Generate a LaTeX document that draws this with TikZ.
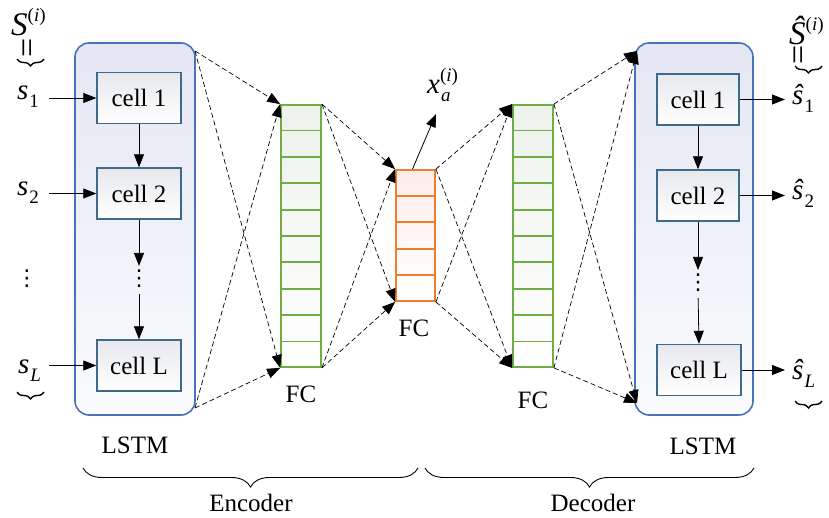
\documentclass[tikz,border=0pt]{standalone}
\usepackage{fontspec}
\setmainfont{Liberation Serif}
\newfontfamily\dejavu{DejaVu Sans}
\usetikzlibrary{arrows.meta,decorations.pathreplacing,calc}
\definecolor{lstmblue}{HTML}{4A72BA}
\definecolor{lstmtop}{HTML}{E4E7F3}
\definecolor{lstmbot}{HTML}{FAFBFD}
\definecolor{cellblue}{HTML}{3F6A8C}
\definecolor{celltop}{HTML}{E6E8EC}
\definecolor{fcgreen}{HTML}{70AD47}
\definecolor{greentop}{HTML}{EDF2EB}
\definecolor{fcorange}{HTML}{ED7D31}
\definecolor{orangetop}{HTML}{FDEDEA}
\newcommand\lbl{\fontsize{25}{28}\selectfont}
\newcommand\symfont{\fontsize{29}{32}\selectfont}
\newcommand\bigsymfont{\fontsize{33}{36}\selectfont}
\newcommand\subfont{\fontsize{19}{20}\selectfont}
\newcommand\supfont{\fontsize{19}{20}\selectfont}
\newcommand\myvdots{{\dejavu\fontsize{22}{24}\selectfont ⋮}}
\newcommand\vsub[2]{\textit{#1}\raisebox{-8pt}{\subfont\kern1pt #2}}
\tikzset{
  lstmbox/.style={draw=lstmblue, line width=1.6pt, rounded corners=14pt,
    top color=lstmtop, bottom color=lstmbot, inner sep=0pt},
  cellbox/.style={draw=cellblue, line width=1.4pt, top color=celltop, bottom color=white,
    minimum height=51pt, inner sep=0pt, font=\lbl},
  fcgbox/.style={draw=fcgreen, line width=1.8pt, top color=greentop, bottom color=white,
    minimum width=40pt, minimum height=262pt, inner sep=0pt},
  fcobox/.style={draw=fcorange, line width=1.8pt, top color=orangetop, bottom color=white,
    minimum width=39pt, minimum height=131pt, inner sep=0pt},
  sarrow/.style={line width=0.8pt, -{Triangle[length=13pt,width=10pt]}},
  darrow/.style={line width=0.7pt, dash pattern=on 5pt off 3pt, -{Triangle[length=13pt,width=10pt]}},
  txt/.style={font=\lbl, inner sep=0pt},
  sym/.style={font=\symfont},
  dotsnode/.style={inner sep=0pt},
  eqsign/.style={font=\fontsize{34}{34}\selectfont, rotate=90, inner sep=0pt},
  bigbrace/.style={decorate, decoration={brace, mirror, amplitude=19pt}, line width=0.9pt},
  smallbrace/.style={decorate, decoration={brace, mirror, amplitude=7pt}, line width=1.4pt},
}
\begin{document}
\begin{tikzpicture}[x=1pt,y=-1pt]
\useasboundingbox (0,0) rectangle (829,518);

% ---------- left LSTM ----------
\node[lstmbox, minimum width=120pt, minimum height=372pt] (lstmL) at (135,229) {};
\node[cellbox, minimum width=84pt] (lc1) at (139,98) {cell 1};
\node[cellbox, minimum width=84pt] (lc2) at (139,193.5) {cell 2};
\node[cellbox, minimum width=84pt] (lcL) at (139,365.5) {cell L};
\node[dotsnode] (lvd) at (139,279) {\myvdots};
\draw[sarrow] (lc1.south) -- (lc2.north);
\draw[sarrow, shorten >=4pt] (lc2.south) -- (lvd.north);
\draw[sarrow, shorten <=6pt] (lvd.south) -- (lcL.north);
\node[txt] (lstmLlbl) at (135,445) {LSTM};

% inputs
\node[font=\bigsymfont, anchor=base west, inner sep=0pt] (Si) at (11,36) {\textit{S}\raisebox{14pt}{\supfont(\textit{i})}};
\node[eqsign] (eqL) at (31,48) {=};
\coordinate (brLa) at (17,59);
\coordinate (brLb) at (44,59);
\draw[smallbrace] (brLa) -- (brLb);
\node[sym, anchor=base west, inner sep=0pt] (s1) at (17,100) {\vsub{s}{1}};
\node[sym, anchor=base west, inner sep=0pt] (s2) at (17,196) {\vsub{s}{2}};
\node[dotsnode] (svd) at (27,279) {\myvdots};
\node[sym, anchor=base west, inner sep=0pt] (sL) at (18,373) {\vsub{s}{\textit{L}}};
\coordinate (brLLa) at (17,392);
\coordinate (brLLb) at (44,392);
\draw[smallbrace] (brLLa) -- (brLLb);
\draw[sarrow] ([xshift=10pt]s1.east |- lc1.west) -- (lc1.west);
\draw[sarrow] ([xshift=10pt]s1.east |- lc2.west) -- (lc2.west);
\draw[sarrow] ([xshift=10pt]s1.east |- lcL.west) -- (lcL.west);

% ---------- FC layers ----------
\node[fcgbox] (fc1) at (301,236) {};
\node[fcobox] (fco) at (415.5,235.5) {};
\node[fcgbox] (fc2) at (533,236) {};
\foreach \i in {1,...,9}{
  \draw[fcgreen, line width=1.8pt] ($(fc1.north west)!\i/10!(fc1.south west)$) -- ($(fc1.north east)!\i/10!(fc1.south east)$);
  \draw[fcgreen, line width=1.8pt] ($(fc2.north west)!\i/10!(fc2.south west)$) -- ($(fc2.north east)!\i/10!(fc2.south east)$);
}
\foreach \i in {1,...,4}{
  \draw[fcorange, line width=1.8pt] ($(fco.north west)!\i/5!(fco.south west)$) -- ($(fco.north east)!\i/5!(fco.south east)$);
}
\node[txt] (fc1lbl) at (301,394) {FC};
\node[txt] (fcolbl) at (414,328) {FC};
\node[txt] (fc2lbl) at (533,400) {FC};

% latent output
\node[sym, inner sep=0pt, anchor=base west] (xa) at (427,94) {\textit{x}\rlap{\raisebox{12pt}{\supfont(\textit{i})}}\raisebox{-8pt}{\subfont\kern1pt\textit{a}}};
\coordinate (xatip) at (436,114);
\draw[sarrow] ([xshift=-3pt]fco.north) -- (xatip);

% ---------- right LSTM ----------
\node[lstmbox, minimum width=118pt, minimum height=372pt] (lstmR) at (694,229) {};
\node[cellbox, minimum width=82pt] (rc1) at (698,99.5) {cell 1};
\node[cellbox, minimum width=82pt] (rc2) at (698,195.5) {cell 2};
\node[cellbox, minimum width=84pt] (rcL) at (699,370) {cell L};
\node[dotsnode] (rvd) at (698,283) {\myvdots};
\draw[sarrow] (rc1.south) -- (rc2.north);
\draw[sarrow, shorten >=4pt] (rc2.south) -- (rvd.north);
\draw[sarrow, shorten <=6pt] (rvd.south) -- (rcL.north);
\node[txt] (lstmRlbl) at (703,446) {LSTM};

% outputs
\node[font=\bigsymfont, anchor=base west, inner sep=0pt] (Shat) at (789,45) {\textit{Ŝ}\raisebox{14pt}{\supfont(\textit{i})}};
\node[eqsign] (eqR) at (802,55) {=};
\coordinate (brRa) at (795,66);
\coordinate (brRb) at (822,66);
\draw[smallbrace] (brRa) -- (brRb);
\node[sym, anchor=base west, inner sep=0pt] (sh1) at (792,105) {\vsub{ŝ}{1}};
\node[sym, anchor=base west, inner sep=0pt] (sh2) at (792,200) {\vsub{ŝ}{2}};
\node[sym, anchor=base west, inner sep=0pt] (shL) at (792,379) {\vsub{ŝ}{\textit{L}}};
\coordinate (brRLa) at (795,401);
\coordinate (brRLb) at (822,401);
\draw[smallbrace] (brRLa) -- (brRLb);
\draw[sarrow] (rc1.east) -- ([xshift=-7pt]sh1.west |- rc1.east);
\draw[sarrow] (rc2.east) -- ([xshift=-7pt]sh1.west |- rc2.east);
\draw[sarrow] (rcL.east) -- ([xshift=-7pt]sh1.west |- rcL.east);

% ---------- dashed connections ----------
\coordinate (lTR) at (195,51);
\coordinate (lBR) at (195,408);
\coordinate (rTL) at (637,51);
\coordinate (rBL) at (637,403);
\draw[darrow] (lTR) -- (fc1.north west);
\draw[darrow] (lTR) -- (fc1.south west);
\draw[darrow] (lBR) -- (fc1.north west);
\draw[darrow] (lBR) -- (fc1.south west);
\draw[darrow] (fc1.north east) -- (fco.north west);
\draw[darrow] (fc1.south east) -- (fco.north west);
\draw[darrow] (fc1.north east) -- (fco.south west);
\draw[darrow] (fc1.south east) -- (fco.south west);
\draw[darrow] (fco.north east) -- (fc2.north west);
\draw[darrow] (fco.south east) -- (fc2.north west);
\draw[darrow] (fco.north east) -- (fc2.south west);
\draw[darrow] (fco.south east) -- (fc2.south west);
\draw[darrow] (fc2.north east) -- (rTL);
\draw[darrow] (fc2.south east) -- (rTL);
\draw[darrow] (fc2.north east) -- (rBL);
\draw[darrow] (fc2.south east) -- (rBL);

% ---------- braces ----------
\coordinate (encA) at (83,468);
\coordinate (encB) at (418,468);
\coordinate (decA) at (425,468);
\coordinate (decB) at (754,468);
\draw[bigbrace] (encA) -- (encB);
\draw[bigbrace] (decA) -- (decB);
\node[txt] (enc) at (251,503) {Encoder};
\node[txt] (dec) at (593,503) {Decoder};
\end{tikzpicture}
\end{document}
